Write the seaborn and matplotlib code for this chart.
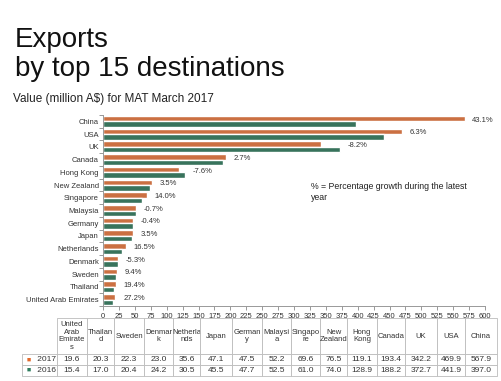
import matplotlib
matplotlib.use("Agg")
import matplotlib.pyplot as plt
import pandas as pd
import seaborn as sns

# table order (smallest -> largest), chart runs the other way
countries = ["United Arab Emirates", "Thailand", "Sweden", "Denmark", "Netherlands",
             "Japan", "Germany", "Malaysia", "Singapore", "New Zealand",
             "Hong Kong", "Canada", "UK", "USA", "China"]
table_heads = ["United\nArab\nEmirate\ns", "Thailan\nd", "Sweden", "Denmar\nk", "Netherla\nnds",
               "Japan", "German\ny", "Malaysi\na", "Singapo\nre", "New\nZealand",
               "Hong\nKong", "Canada", "UK", "USA", "China"]
v2017 = [19.6, 20.3, 22.3, 23.0, 35.6, 47.1, 47.5, 52.2, 69.6, 76.5, 119.1, 193.4, 342.2, 469.9, 567.9]
v2016 = [15.4, 17.0, 20.4, 24.2, 30.5, 45.5, 47.7, 52.5, 61.0, 74.0, 128.9, 188.2, 372.7, 441.9, 397.0]
growth = [27.2, 19.4, 9.4, -5.3, 16.5, 3.5, -0.4, -0.7, 14.0, 3.5, -7.6, 2.7, -8.2, 6.3, 43.1]
years = ["2017", "2016"]

orange = "#E2692B"
green = "#2E7D5E"

sns.set_style("ticks")
plt.rcParams["font.family"] = ["Liberation Sans", "DejaVu Sans"]

df = pd.DataFrame({
    "country": countries * 2,
    "value": v2017 + v2016,
    "year": ["2017"] * len(countries) + ["2016"] * len(countries),
})
order = countries[::-1]

fig = plt.figure(figsize=(5.01, 3.81), dpi=100)
fig.patch.set_facecolor("white")

# titles
fig.text(15 / 501, 1 - 47 / 381, "Exports", fontsize=20, color="#111111", va="baseline")
fig.text(15 / 501, 1 - 76 / 381, "by top 15 destinations", fontsize=20, color="#111111", va="baseline")
fig.text(13 / 501, 1 - 102 / 381, "Value (million A$) for MAT March 2017", fontsize=8.5,
         color="#222222", va="baseline")

ax = fig.add_axes([103 / 501, 1 - 306 / 381, 382 / 501, 191 / 381])
sns.barplot(data=df, y="country", x="value", hue="year", orient="h", order=order,
            hue_order=years, palette=[orange, green], width=0.86, ax=ax, legend=False)
ax.set_xlim(0, 600)
ax.set_ylim(len(order) - 0.5, -0.5)
ax.set_xticks(range(0, 601, 25))
ax.set_xlabel("")
ax.set_ylabel("")
ax.tick_params(axis="x", labelsize=5.5, colors="#888888", labelcolor="#333333", length=3, width=0.6, pad=2)
ax.tick_params(axis="y", which="major", labelsize=5.5, labelcolor="#333333", length=0, pad=3)
ax.set_yticks([i + 0.5 for i in range(-1, len(order))], minor=True)
ax.tick_params(axis="y", which="minor", length=3, width=0.6, colors="#888888")
sns.despine(ax=ax, top=True, right=True)
for s in ["left", "bottom"]:
    ax.spines[s].set_color("#999999")
    ax.spines[s].set_linewidth(0.7)

# growth labels at the end of the longer bar
for i, c in enumerate(order):
    k = countries.index(c)
    mx = max(v2017[k], v2016[k])
    ax.annotate(f"{growth[k]:.1f}%", xy=(mx, i - 0.1), xytext=(5.5, 0),
                textcoords="offset points", va="center", ha="left",
                fontsize=5.5, color="#333333")

fig.text(311 / 501, 1 - 192 / 381, "% = Percentage growth during the latest\nyear",
         fontsize=6.3, color="#222222", va="center", linespacing=1.4)

# data table under the chart (first column holds the year labels)
tax = fig.add_axes([22 / 501, 1 - 376 / 381, 475 / 501, 58 / 381])
tax.axis("off")
col_px = [35, 30, 27, 30, 29, 27, 32, 30, 29, 29, 27, 30, 28, 32, 28, 32]
total = sum(col_px)
cell_text = [["      2017"] + [f"{v:.1f}" for v in v2017],
             ["      2016"] + [f"{v:.1f}" for v in v2016]]
tbl = tax.table(cellText=cell_text, colLabels=[""] + table_heads,
                colWidths=[w / total for w in col_px], cellLoc="center", bbox=[0, 0, 1, 1])
tbl.auto_set_font_size(False)
for (r, c), cell in tbl.get_celld().items():
    cell.set_edgecolor("#BBBBBB")
    cell.set_linewidth(0.6)
    cell.set_height(36 / 58 if r == 0 else 11 / 58)
    cell.get_text().set_fontsize(5.5 if r == 0 else 6)
    cell.get_text().set_color("#333333")
    if r == 0:
        cell.get_text().set_linespacing(1.15)
    if r == 0 and c == 0:
        cell.visible_edges = "open"

x_sq = 5 / 475
tax.text(x_sq, 16 / 58, "■", color=orange, fontsize=5, va="center", ha="left", transform=tax.transAxes)
tax.text(x_sq, 5.5 / 58, "■", color=green, fontsize=5, va="center", ha="left", transform=tax.transAxes)

fig.savefig("out.png", dpi=100, facecolor="white")
